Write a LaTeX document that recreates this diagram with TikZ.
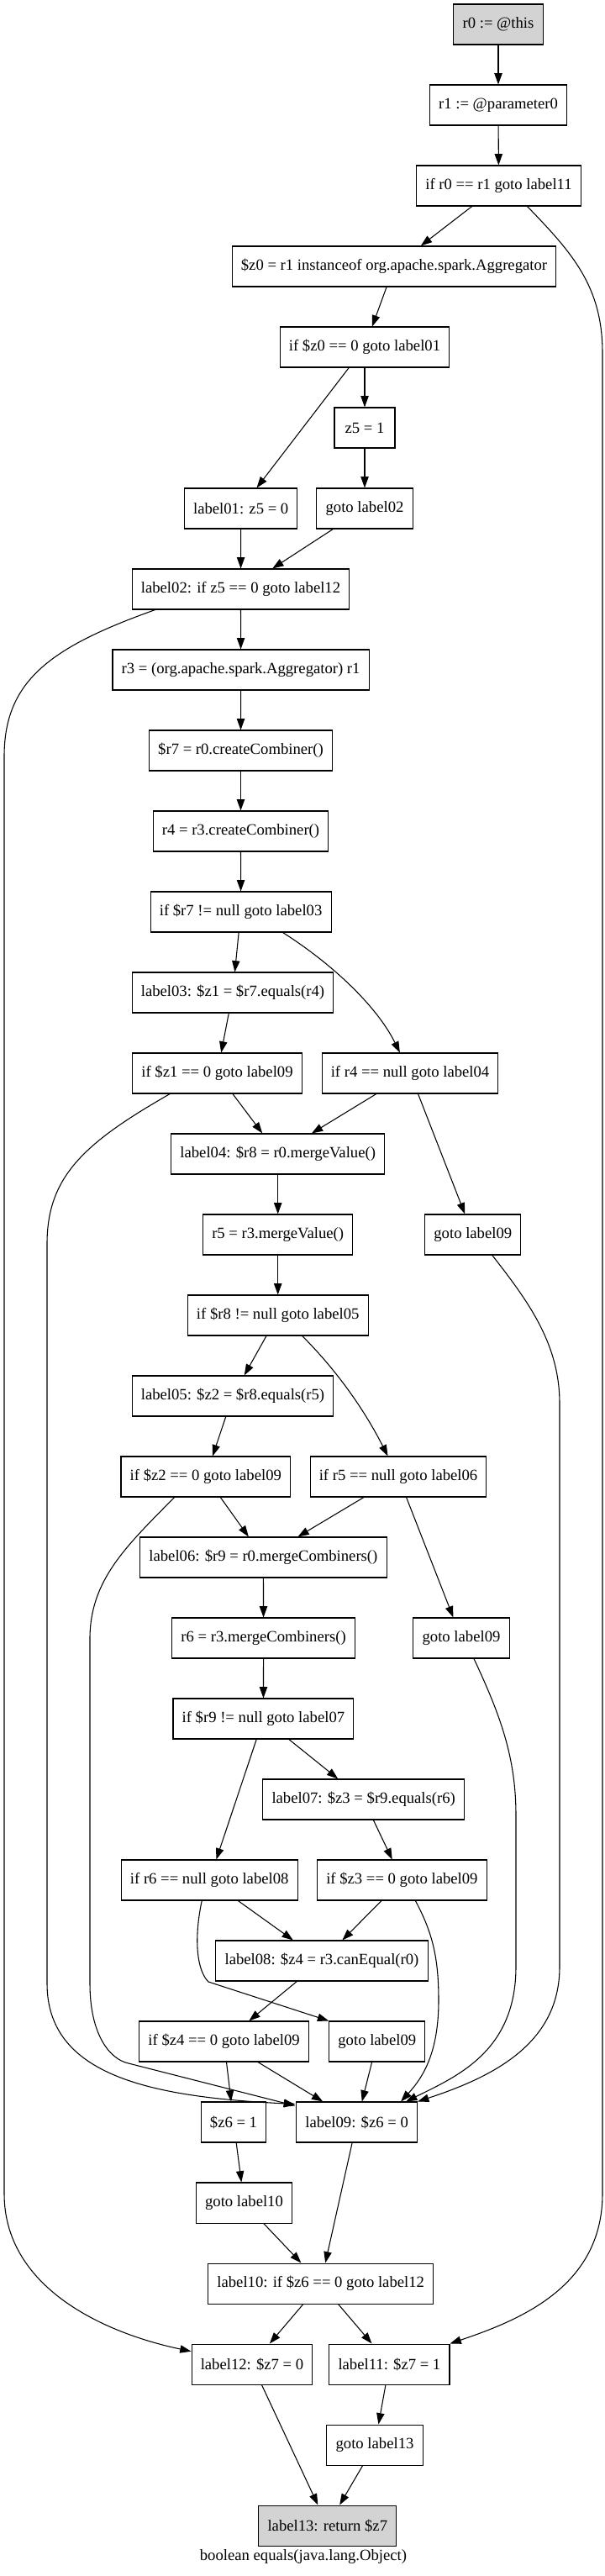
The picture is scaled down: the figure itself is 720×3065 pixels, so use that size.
\documentclass[tikz,border=0pt]{standalone}
\usepackage{fontspec}
\setmainfont{Liberation Serif}
\usepackage{tikz}
\usetikzlibrary{arrows.meta,calc}
\definecolor{NODEGRAY}{HTML}{D3D3D3}
\tikzstyle{BLOCK} = [rectangle, draw, line width=0.8pt, font=\fontsize{14}{16}\selectfont, minimum width=54pt, minimum height=36pt, inner xsep=8pt, text centered]
\tikzstyle{BLOCK_GRAY} = [BLOCK, fill=NODEGRAY]
\tikzstyle{LINE} = [draw, line width=0.8pt, -{Triangle[length=10pt, width=7pt]}]
\tikzstyle{CAPTION} = [font=\fontsize{14}{16}\selectfont]

\begin{document}
\begin{tikzpicture}[x=0.75pt, y=-0.75pt]
\useasboundingbox (0,0) rectangle (720,3065);
% Place node
\node [BLOCK_GRAY] (R0) at (593,29) {r0 := @this};
\node [BLOCK] (R1) at (593,125) {r1 := @parameter0};
\node [BLOCK] (IF_R0) at (593.5,221) {if r0 == r1 goto label11};
\node [BLOCK] (Z0) at (469,317) {\$z0 = r1 instanceof org.apache.spark.Aggregator};
\node [BLOCK] (IF_Z0) at (434,413) {if \$z0 == 0 goto label01};
\node [BLOCK] (Z5) at (434,509) {z5 = 1};
\node [BLOCK] (LABEL01) at (286.7,605) {label01: z5 = 0};
\node [BLOCK] (GOTO02) at (434,605) {goto label02};
\node [BLOCK] (LABEL02) at (286.5,701) {label02: if z5 == 0 goto label12};
\node [BLOCK] (R3) at (286.6,797) {r3 = (org.apache.spark.Aggregator) r1};
\node [BLOCK] (R7) at (286.5,893) {\$r7 = r0.createCombiner()};
\node [BLOCK] (R4) at (286.5,989) {r4 = r3.createCombiner()};
\node [BLOCK] (IF_R7) at (286.6,1085) {if \$r7 != null goto label03};
\node [BLOCK] (LABEL03) at (277,1181) {label03: \$z1 = \$r7.equals(r4)};
\node [BLOCK] (IF_Z1) at (258.5,1277) {if \$z1 == 0 goto label09};
\node [BLOCK] (IF_R4) at (488,1277) {if r4 == null goto label04};
\node [BLOCK] (LABEL04) at (330.7,1373) {label04: \$r8 = r0.mergeValue()};
\node [BLOCK] (R5) at (330.7,1469) {r5 = r3.mergeValue()};
\node [BLOCK] (GOTO09_A) at (562.8,1469) {goto label09};
\node [BLOCK] (IF_R8) at (330.7,1565) {if \$r8 != null goto label05};
\node [BLOCK] (LABEL05) at (277,1661) {label05: \$z2 = \$r8.equals(r5)};
\node [BLOCK] (IF_Z2) at (244.8,1757) {if \$z2 == 0 goto label09};
\node [BLOCK] (IF_R5) at (474,1757) {if r5 == null goto label06};
\node [BLOCK] (LABEL06) at (313.4,1853) {label06: \$r9 = r0.mergeCombiners()};
\node [BLOCK] (R6) at (313.6,1949) {r6 = r3.mergeCombiners()};
\node [BLOCK] (GOTO09_B) at (549,1949) {goto label09};
\node [BLOCK] (IF_R9) at (313.4,2045) {if \$r9 != null goto label07};
\node [BLOCK] (LABEL07) at (432.7,2141) {label07: \$z3 = \$r9.equals(r6)};
\node [BLOCK] (IF_R6) at (249.2,2237) {if r6 == null goto label08};
\node [BLOCK] (IF_Z3) at (478.4,2237) {if \$z3 == 0 goto label09};
\node [BLOCK] (LABEL08) at (383,2333) {label08: \$z4 = r3.canEqual(r0)};
\node [BLOCK] (IF_Z4) at (266.6,2429) {if \$z4 == 0 goto label09};
\node [BLOCK] (GOTO09_C) at (448.8,2429) {goto label09};
\node [BLOCK] (Z6) at (278,2525) {\$z6 = 1};
\node [BLOCK] (LABEL09) at (424.6,2525) {label09: \$z6 = 0};
\node [BLOCK] (GOTO10) at (290.5,2621) {goto label10};
\node [BLOCK] (LABEL10) at (381.7,2717) {label10: if \$z6 == 0 goto label12};
\node [BLOCK] (LABEL12) at (300,2813) {label12: \$z7 = 0};
\node [BLOCK] (LABEL11) at (463.4,2813) {label11: \$z7 = 1};
\node [BLOCK] (GOTO13) at (446,2909) {goto label13};
\node [BLOCK_GRAY] (LABEL13) at (389.8,3005) {label13: return \$z7};
\node [CAPTION] (TITLE) at (361,3042) {boolean equals(java.lang.Object)};
% LINES and ARROWS
\path [LINE] (R0) -- (R1);
\path [LINE] (R1) -- (IF_R0);
\path [LINE] (IF_R0) -- (Z0);
\path [LINE] ($(IF_R0.south)+(34,0)$) .. controls (680,300) and (717,340) .. (717,420) -- (717,2610) .. controls (717,2720) and (620,2760) .. (LABEL11.north east);
\path [LINE] (Z0) -- (IF_Z0);
\path [LINE] (IF_Z0) -- (LABEL01);
\path [LINE] (IF_Z0) -- (Z5);
\path [LINE] (Z5) -- (GOTO02);
\path [LINE] (LABEL01) -- (LABEL02);
\path [LINE] (GOTO02) -- (LABEL02);
\path [LINE] (LABEL02) -- (R3);
\path [LINE] ($(LABEL02.south west)+(28,0)$) .. controls (60,770) and (5,810) .. (5,900) -- (5,2610) .. controls (5,2720) and (120,2775) .. (LABEL12);
\path [LINE] (R3) -- (R7);
\path [LINE] (R7) -- (R4);
\path [LINE] (R4) -- (IF_R7);
\path [LINE] (IF_R7) -- (LABEL03);
\path [LINE] ($(IF_R7.south)+(50,0)$) .. controls (400,1150) and (450,1200) .. (IF_R4);
\path [LINE] (LABEL03) -- (IF_Z1);
\path [LINE] (IF_Z1) -- (LABEL04);
\path [LINE] ($(IF_Z1.south west)+(45,0)$) .. controls (100,1360) and (56,1400) .. (56,1480) -- (56,2360) .. controls (56,2470) and (180,2495) .. ($(LABEL09.north west)+(-1,3)$);
\path [LINE] (IF_R4) -- (LABEL04);
\path [LINE] (IF_R4) -- (GOTO09_A);
\path [LINE] (LABEL04) -- (R5);
\path [LINE] ($(GOTO09_A.south)+(23,0)$) .. controls (630,1550) and (666,1600) .. (666,1670) -- (666,2340) .. controls (666,2430) and (590,2470) .. (LABEL09.north east);
\path [LINE] (R5) -- (IF_R8);
\path [LINE] (IF_R8) -- (LABEL05);
\path [LINE] ($(IF_R8.south)+(29,0)$) .. controls (410,1640) and (440,1690) .. (IF_R5);
\path [LINE] (LABEL05) -- (IF_Z2);
\path [LINE] (IF_Z2) -- (LABEL06);
\path [LINE] ($(IF_Z2.south west)+(64,0)$) .. controls (150,1840) and (107,1880) .. (107,1950) -- (107,2360) .. controls (107,2420) and (130,2450) .. (153,2455) -- ($(LABEL09.north west)+(-1,5)$);
\path [LINE] (IF_R5) -- (LABEL06);
\path [LINE] (IF_R5) -- (GOTO09_B);
\path [LINE] (LABEL06) -- (R6);
\path [LINE] ($(GOTO09_B.south)+(15,0)$) .. controls (595,2040) and (614,2090) .. (614,2160) -- (614,2340) .. controls (614,2440) and (545,2470) .. ($(LABEL09.north east)+(-14,0)$);
\path [LINE] (R6) -- (IF_R9);
\path [LINE] (IF_R9) -- (IF_R6);
\path [LINE] (IF_R9) -- (LABEL07);
\path [LINE] (LABEL07) -- (IF_Z3);
\path [LINE] (IF_R6) -- (LABEL08);
\path [LINE] ($(IF_R6.south)+(-9,0)$) .. controls (230,2310) and (235,2345) .. (248,2358) -- (GOTO09_C.north west);
\path [LINE] (IF_Z3) -- (LABEL08);
\path [LINE] ($(IF_Z3.south)+(16,0)$) .. controls (515,2300) and (522,2330) .. (522,2380) .. controls (522,2440) and (505,2470) .. ($(LABEL09.north east)+(-20,0)$);
\path [LINE] (LABEL08) -- (IF_Z4);
\path [LINE] (IF_Z4) -- (Z6);
\path [LINE] (IF_Z4) -- (LABEL09);
\path [LINE] (GOTO09_C) -- (LABEL09);
\path [LINE] (Z6) -- (GOTO10);
\path [LINE] (LABEL09) -- (LABEL10);
\path [LINE] (GOTO10) -- (LABEL10);
\path [LINE] (LABEL10) -- (LABEL12);
\path [LINE] (LABEL10) -- (LABEL11);
\path [LINE] (LABEL11) -- (GOTO13);
\path [LINE] (LABEL12) -- (LABEL13);
\path [LINE] (GOTO13) -- (LABEL13);
\end{tikzpicture}
\end{document}
